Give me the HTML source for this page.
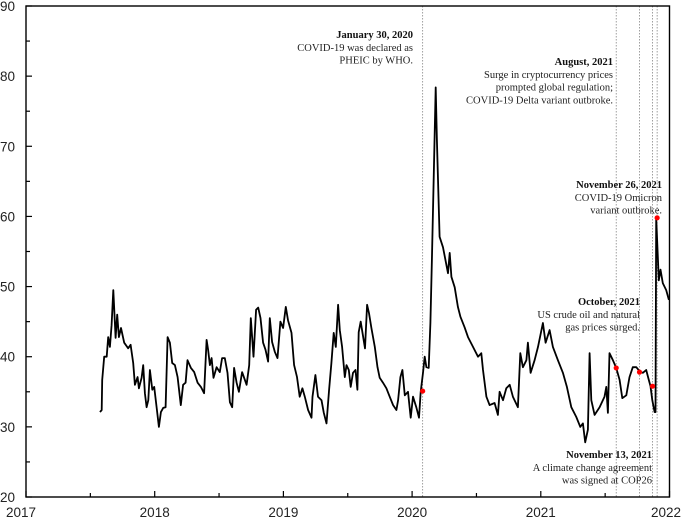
<!DOCTYPE html>
<html><head><meta charset="utf-8"><style>
html,body{margin:0;padding:0;background:#fff;}
svg{display:block;}
.ax{font-family:"Liberation Sans",sans-serif;font-size:13.5px;fill:#222;}
.an{font-family:"Liberation Serif",serif;font-size:10.5px;fill:#222;}
.anb{font-family:"Liberation Serif",serif;font-size:10.5px;font-weight:bold;fill:#111;}
</style></head><body>
<svg id="chart" width="685" height="521" xmlns="http://www.w3.org/2000/svg"></svg>
<script>
const dates=[0.575,0.588,0.592,0.608,0.627,0.639,0.652,0.665,0.678,0.696,0.709,0.722,0.738,0.763,0.794,0.813,0.833,0.846,0.867,0.877,0.898,0.911,0.924,0.937,0.950,0.963,0.981,0.996,1.015,1.033,1.048,1.066,1.085,1.100,1.118,1.136,1.157,1.178,1.203,1.221,1.240,1.255,1.281,1.307,1.333,1.359,1.384,1.403,1.415,1.429,1.442,1.457,1.481,1.506,1.524,1.545,1.566,1.584,1.602,1.617,1.636,1.654,1.679,1.714,1.734,1.747,1.768,1.788,1.804,1.822,1.842,1.861,1.881,1.894,1.912,1.933,1.954,1.977,1.998,2.019,2.036,2.063,2.083,2.106,2.127,2.148,2.166,2.192,2.218,2.226,2.249,2.269,2.296,2.314,2.335,2.355,2.373,2.391,2.407,2.425,2.438,2.456,2.477,2.490,2.508,2.523,2.541,2.560,2.575,2.585,2.601,2.614,2.634,2.650,2.665,2.684,2.710,2.731,2.748,2.774,2.800,2.826,2.852,2.878,2.891,2.909,2.925,2.943,2.968,2.989,3.007,3.033,3.054,3.067,3.085,3.098,3.111,3.129,3.142,3.154,3.183,3.193,3.214,3.240,3.279,3.292,3.305,3.331,3.356,3.375,3.408,3.434,3.473,3.512,3.538,3.551,3.577,3.602,3.641,3.667,3.680,3.706,3.732,3.758,3.783,3.822,3.841,3.861,3.888,3.900,3.921,3.952,3.978,4.016,4.037,4.068,4.094,4.133,4.172,4.203,4.237,4.276,4.307,4.327,4.345,4.366,4.379,4.392,4.418,4.457,4.495,4.509,4.521,4.534,4.560,4.586,4.612,4.633,4.664,4.689,4.715,4.742,4.773,4.793,4.819,4.839,4.852,4.866,4.884,4.891,4.897,4.917,4.930,4.948,4.974,4.995];
const values=[32.1,32.4,36.7,40,40,42.8,41.4,44.5,49.5,42.7,46,42.8,44.1,42,41.2,41.7,39.1,36,37.1,35.5,37,38.8,34.8,32.8,33.8,38.1,35.3,35.7,32.8,30,32.1,32.7,32.8,42.8,42,39.1,38.8,37.1,33.1,36,36.3,39.5,38.4,37.8,36.3,35.7,34.8,42.4,41,38.8,39.8,37,38.5,37.8,39.8,39.8,37.7,33.5,32.8,38.4,36.3,35,37.8,36,38.8,45.5,40,46.7,47,45.5,42,41,39.3,45.5,42.1,40.7,39.8,45,44.1,47.1,45.2,43.4,38.8,37.1,34.3,35.5,34.3,32.4,31.3,34.3,37.4,34.3,33.8,32,30.5,35.3,39.1,43.4,41.4,47.4,43.8,41.4,37.1,38.8,38.1,35.7,37.7,38.1,35.3,43.5,45,43.5,41.2,47.4,46.2,44.1,41.4,38.5,37,36.3,35.5,34.3,33.1,32.4,33.8,37.1,38.1,34.5,35,31.3,34.3,32.8,31.3,35,37.7,40,38.5,38.4,44.8,53.8,78.4,70.9,57.1,55.6,51.9,54.8,51.4,49.9,47.1,45.7,44.2,42.8,41.4,40,40.5,38.1,34.3,33.1,33.4,31.7,35,33.8,35.5,36,34.3,32.8,40.5,38.5,39.5,42,37.7,39.5,41.4,44.8,42,43.8,41.4,39.5,37.7,35.7,32.8,31.4,30,30.5,27.8,29.6,40.5,33.8,31.7,32.8,34.3,35.7,32,40.5,39.5,38.4,36.7,34.1,34.5,37.1,38.5,38.5,37.8,37.7,38.1,36.7,35.8,33.8,32.1,32.1,59.8,50.9,52.4,50.5,49.5,48.1];
const eventDates=[3.082,4.586,4.767,4.868,4.904];
const eventValues=[35.1,38.4,37.8,35.8,59.8];
const yTicks=[20,30,40,50,60,70,80,90];
const xTicks=[2017,2018,2019,2020,2021,2022];

const L=26,R=669.5,T=6,B=497;
const sx=d=>L+d*(R-L)/5;
const sy=v=>B-(v-20)*(B-T)/70;
const NS="http://www.w3.org/2000/svg";
const svg=document.getElementById('chart');
function mk(tag,attrs,parent){const e=document.createElementNS(NS,tag);for(const k in attrs)e.setAttribute(k,attrs[k]);(parent||svg).appendChild(e);return e;}

// event lines
eventDates.forEach((d,i)=>{
  const l=mk('line',{x1:sx(d),x2:sx(d),y1:T,y2:B,stroke:'#888','stroke-width':0.8,'stroke-dasharray':'1.5,1.5'});
  
  
});

// series
let dstr='';
dates.forEach((d,i)=>{dstr+=(i?'L':'M')+sx(d).toFixed(1)+','+sy(values[i]).toFixed(1);});
const p=mk('path',{d:dstr,fill:'none',stroke:'#000','stroke-width':1.8,'stroke-linejoin':'round'});



// event dots
eventDates.forEach((d,i)=>{
  const c=mk('circle',{cx:sx(d),cy:sy(eventValues[i]),r:2.6,fill:'#f00'});
  
  
});

// frame
const fr=mk('rect',{x:L,y:T,width:R-L,height:B-T,fill:'none',stroke:'#000','stroke-width':1.4});



// y ticks
yTicks.forEach((v,i)=>{
  mk('line',{x1:L,x2:L+6,y1:sy(v),y2:sy(v),stroke:'#000','stroke-width':1.2});
  if(i<yTicks.length-1) mk('line',{x1:L,x2:L+4,y1:sy(v+5),y2:sy(v+5),stroke:'#000','stroke-width':1.2});
  const t=mk('text',{x:0,y:sy(v)+5,class:'ax'});
  t.textContent=v;
  
  
});
// x ticks
xTicks.forEach((yr,i)=>{
  const x=sx(yr-2017);
  mk('line',{x1:x,x2:x,y1:B,y2:B-6,stroke:'#000','stroke-width':1.2});
  if(i<xTicks.length-1) mk('line',{x1:sx(yr-2017+0.5),x2:sx(yr-2017+0.5),y1:B,y2:B-4,stroke:'#000','stroke-width':1.2});
  const t=mk('text',{x:(i==0?21:(i==xTicks.length-1?Math.min(x,666):x)),y:517,class:'ax','text-anchor':'middle'});
  t.textContent=yr;
  
  
});

// annotations
const notes=[
 [413,38,['January 30, 2020','COVID-19 was declared as','PHEIC by WHO.'],'annotation-pheic'],
 [613,65,['August, 2021','Surge in cryptocurrency prices','prompted global regulation;','COVID-19 Delta variant outbroke.'],'annotation-delta'],
 [662,188,['November 26, 2021','COVID-19 Omicron','variant outbroke.'],'annotation-omicron'],
 [640,305,['October, 2021','US crude oil and natural','gas prices surged.'],'annotation-oil'],
 [652,458,['November 13, 2021','A climate change agreement','was signed at COP26'],'annotation-cop26']
];
notes.forEach(n=>{
  const g=mk('g',{});
  
  
  n[2].forEach((s,i)=>{
    const t=mk('text',{x:n[0],y:n[1]+i*12.8,'text-anchor':'end',class:i?'an':'anb'},g);
    t.textContent=s;
  });
});
</script>
</body></html>
